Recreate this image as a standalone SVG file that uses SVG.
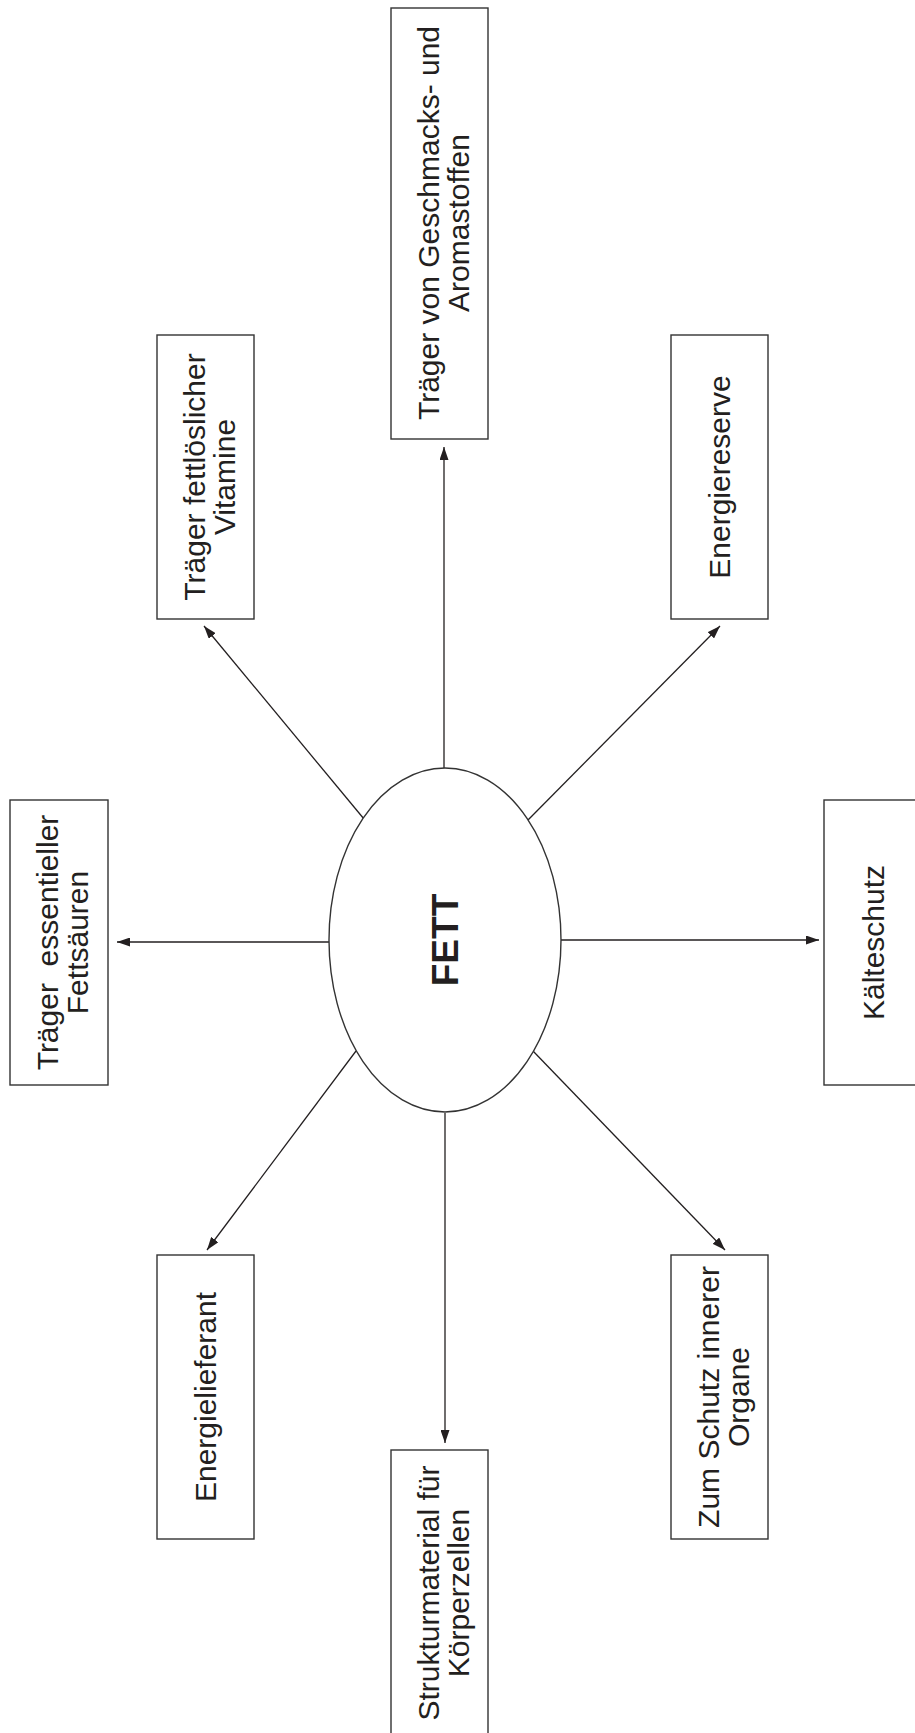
<svg xmlns="http://www.w3.org/2000/svg" width="915" height="1733" viewBox="0 0 915 1733">
<style>
.box{fill:#fff;stroke:#333;stroke-width:1.4}
.lbl{font-family:"Liberation Sans",Arial,sans-serif;font-size:30px;fill:#231f20;text-anchor:middle;white-space:pre}
.title{font-family:"Liberation Sans",Arial,sans-serif;font-size:37px;font-weight:bold;fill:#231f20;text-anchor:middle}
.conn{stroke:#231f20;stroke-width:1.3;fill:none;marker-end:url(#arr)}
</style>
<defs>
<marker id="arr" viewBox="0 0 13 9" refX="13" refY="4.5" markerWidth="13" markerHeight="9" markerUnits="userSpaceOnUse" orient="auto">
<path d="M0,0 L13,4.5 L0,9 Z" fill="#231f20"/>
</marker>
</defs>
<rect width="915" height="1733" fill="#fff"/>
<g id="connectors">
<line class="conn" x1="444" y1="768" x2="444" y2="447"/>
<line class="conn" x1="364" y1="819" x2="204" y2="626"/>
<line class="conn" x1="528" y1="820" x2="720" y2="626"/>
<line class="conn" x1="329" y1="942" x2="117" y2="942"/>
<line class="conn" x1="561" y1="940" x2="819" y2="940"/>
<line class="conn" x1="356" y1="1051" x2="207" y2="1250"/>
<line class="conn" x1="445" y1="1113" x2="445" y2="1443"/>
<line class="conn" x1="533" y1="1051" x2="725" y2="1250"/>
</g>
<g id="fett">
<ellipse class="box" cx="445" cy="940" rx="116" ry="172"/>
<text class="title" transform="translate(445,940) rotate(-90)" x="0" y="13">FETT</text>
</g>
<g id="aroma">
<rect class="box" x="391" y="8" width="97" height="431"/>
<text class="lbl" transform="translate(440,223) rotate(-90)"><tspan x="0" y="-1">Träger von Geschmacks- und</tspan><tspan x="0" y="29">Aromastoffen</tspan></text>
</g>
<g id="vitamine">
<rect class="box" x="157" y="335" width="97" height="284"/>
<text class="lbl" transform="translate(205.5,477) rotate(-90)"><tspan x="0" y="-1">Träger fettlöslicher</tspan><tspan x="0" y="29">Vitamine</tspan></text>
</g>
<g id="energiereserve">
<rect class="box" x="671" y="335" width="97" height="284"/>
<text class="lbl" transform="translate(719.5,477) rotate(-90)" x="0" y="10.5">Energiereserve</text>
</g>
<g id="fettsaeuren">
<rect class="box" x="10" y="800" width="98" height="285"/>
<text class="lbl" transform="translate(59,942.5) rotate(-90)"><tspan x="0" y="-1">Träger  essentieller</tspan><tspan x="0" y="29">Fettsäuren</tspan></text>
</g>
<g id="kaelteschutz">
<rect class="box" x="824" y="800" width="98" height="285"/>
<text class="lbl" transform="translate(873,942.5) rotate(-90)" x="0" y="10.5">Kälteschutz</text>
</g>
<g id="energielieferant">
<rect class="box" x="157" y="1255" width="97" height="284"/>
<text class="lbl" transform="translate(205.5,1397) rotate(-90)" x="0" y="10.5">Energielieferant</text>
</g>
<g id="struktur">
<rect class="box" x="391" y="1450" width="97" height="290"/>
<text class="lbl" transform="translate(440,1593) rotate(-90)"><tspan x="0" y="-1">Strukturmaterial für</tspan><tspan x="0" y="29">Körperzellen</tspan></text>
</g>
<g id="organe">
<rect class="box" x="671" y="1255" width="97" height="284"/>
<text class="lbl" transform="translate(719.5,1397) rotate(-90)"><tspan x="0" y="-1">Zum Schutz innerer</tspan><tspan x="0" y="29">Organe</tspan></text>
</g>
</svg>
